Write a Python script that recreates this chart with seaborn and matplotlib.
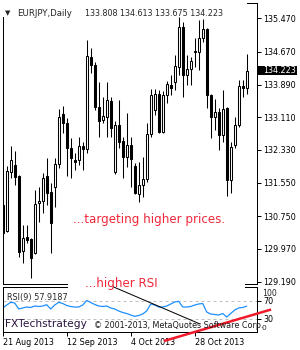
import matplotlib
matplotlib.use("Agg")
import numpy as np
import pandas as pd
import matplotlib.pyplot as plt
import matplotlib.transforms as mtransforms
from matplotlib.patches import Rectangle
from matplotlib.lines import Line2D
import seaborn as sns

# ---------------- data ----------------
symbol = "EURJPY,Daily"
opens = [131.019, 130.399, 131.805, 131.972, 131.710, 129.922, 130.256, 130.208, 129.874, 131.066,
         131.114, 131.710, 131.329, 131.448, 131.996, 133.188, 132.974, 132.378, 132.092, 132.092,
         132.425, 132.354, 134.547, 134.357, 133.355, 133.045, 133.117, 133.498, 131.805, 132.926,
         132.545, 132.163, 132.449, 131.949, 131.281, 131.496, 131.639, 132.711, 133.284, 133.665,
         132.759, 133.641, 133.880, 133.951, 134.309, 135.262, 134.118, 134.261, 134.690, 134.666,
         135.000, 135.215, 133.641, 133.117, 133.236, 132.688, 133.331, 131.615, 132.449, 132.926,
         133.856, 133.808]
highs = [131.066, 131.949, 132.425, 132.306, 131.734, 130.542, 130.542, 130.232, 131.376, 131.448,
         131.782, 132.139, 131.543, 132.139, 133.307, 133.379, 133.093, 132.616, 132.259, 132.640,
         132.521, 134.952, 134.762, 134.428, 133.951, 133.594, 133.951, 133.594, 133.021, 133.522,
         132.640, 133.212, 132.640, 132.020, 132.044, 132.163, 132.974, 133.784, 133.784, 133.760,
         133.737, 133.975, 134.118, 134.595, 135.501, 135.381, 134.595, 134.547, 135.000, 135.429,
         135.453, 135.238, 133.665, 133.546, 133.331, 133.760, 133.355, 132.521, 133.117, 133.999,
         133.999, 134.613]
lows = [130.304, 130.375, 131.662, 131.496, 129.779, 129.636, 130.113, 129.278, 129.851, 130.614,
        130.828, 131.019, 129.874, 130.971, 131.901, 132.735, 131.710, 131.662, 131.853, 131.972,
        131.853, 132.259, 134.166, 133.284, 132.640, 132.974, 132.640, 132.640, 131.758, 132.378,
        131.662, 131.925, 131.448, 131.281, 131.090, 131.210, 131.567, 132.640, 133.164, 132.735,
        132.735, 133.450, 133.641, 133.760, 134.118, 133.594, 133.880, 133.880, 134.309, 134.237,
        134.905, 133.331, 132.616, 132.807, 132.330, 132.521, 131.233, 131.305, 132.378, 132.878,
        133.594, 133.675]
closes = [130.351, 131.829, 132.092, 131.686, 129.898, 130.232, 130.184, 129.755, 131.043, 131.114,
          131.662, 131.305, 130.590, 131.996, 133.117, 132.974, 132.378, 132.139, 132.044, 132.425,
          132.354, 134.571, 134.357, 133.355, 133.021, 133.141, 133.522, 132.854, 132.926, 132.521,
          132.163, 132.449, 132.115, 131.305, 131.496, 131.639, 132.711, 133.641, 133.665, 132.759,
          133.641, 133.903, 133.808, 134.333, 135.262, 134.118, 134.261, 134.452, 134.666, 135.000,
          135.215, 133.641, 133.117, 133.236, 132.688, 133.307, 131.615, 132.402, 132.926, 133.856,
          133.808, 134.223]
rsi = [53.8, 60.4, 66.4, 64.9, 51.6, 53.8, 56.0, 54.9, 58.2, 57.1,
       58.2, 61.1, 51.6, 60.4, 66.4, 63.8, 59.3, 57.1, 56.0, 56.0,
       60.4, 70.4, 66.0, 61.6, 58.2, 57.1, 58.2, 53.8, 51.6, 47.1,
       43.8, 41.6, 38.2, 35.3, 37.1, 40.4, 47.1, 62.7, 60.4, 56.0,
       56.0, 58.2, 62.7, 67.1, 68.7, 56.0, 56.0, 57.1, 60.4, 62.7,
       63.8, 44.9, 40.4, 39.3, 38.2, 41.6, 33.8, 41.6, 49.3, 53.8,
       54.9, 57.9187]
date_tick_pos = [0, 16, 32, 48]
date_tick_labels = ["21 Aug 2013", "12 Sep 2013", "4 Oct 2013", "28 Oct 2013"]
price_ticks = [135.470, 134.670, 133.890, 133.110, 132.330, 131.550, 130.750, 129.970, 129.190]
rsi_levels = [70, 30]
rsi_trend_x = [40.3, 67.1]
rsi_trend_y = [-19.6, 50.4]

df = pd.DataFrame({"i": np.arange(len(opens)), "open": opens, "high": highs,
                   "low": lows, "close": closes, "rsi": rsi})

# ---------------- figure ----------------
sns.set_style("white")
plt.rcParams["font.family"] = ["DejaVu Sans"]

W, H = 300, 350
fig = plt.figure(figsize=(3, 3.5), dpi=100)
fig.patch.set_facecolor("white")

def fx(x):
    return x / W

def fy(y):
    return 1 - y / H

ax = fig.add_axes([fx(2.5), fy(284), (257.3 - 2.5) / W, (284 - 3.3) / H])
rax = fig.add_axes([fx(2.5), fy(332.2), (257.3 - 2.5) / W, 45 / H])

LW = 0.75
bull = df["close"] >= df["open"]
ax.vlines(df["i"], df["low"], df["high"], color="black", lw=LW, zorder=2)
body_h = np.maximum((df["close"] - df["open"]).abs(), 0.004)
ax.bar(df["i"], body_h, bottom=np.minimum(df["open"], df["close"]), width=0.5,
       color=np.where(bull, "white", "black"), edgecolor="black", linewidth=LW, zorder=3)

ax.set_xlim(-0.05, 63.65)
ax.set_ylim(129.135, 135.827)
ax.set_xticks([])
ax.yaxis.tick_right()
ax.set_yticks(price_ticks, labels=[f"{v:.3f}" for v in price_ticks])
ax.tick_params(axis="y", length=2.9, width=0.72, pad=1.4, labelsize=5.8,
               direction="out", colors="black", right=True, left=False)
for s in ax.spines.values():
    s.set_color("black")
    s.set_linewidth(0.72)

# RSI panel
sns.lineplot(data=df, x="i", y="rsi", ax=rax, color="#1E90FF", lw=0.9)
for lv in rsi_levels:
    rax.axhline(lv, color="#C0C0C0", lw=0.72, ls=(0, (3, 3)), zorder=1)
rax.set_xlim(-0.05, 63.65)
rax.set_ylim(0, 100)
rax.set_xlabel("")
rax.set_ylabel("")
rax.set_xticks(date_tick_pos, labels=date_tick_labels)
for lb in rax.get_xticklabels():
    lb.set_horizontalalignment("left")
rax.yaxis.tick_right()
rax.set_yticks(rsi_levels, labels=[str(v) for v in rsi_levels])
rax.tick_params(axis="x", length=2.9, width=0.72, pad=1.0, labelsize=5.8,
                direction="out", colors="black", bottom=True)
rax.tick_params(axis="y", length=2.9, width=0.72, pad=1.4, labelsize=5.8,
                direction="out", colors="black", right=True, left=False)
for s in rax.spines.values():
    s.set_color("black")
    s.set_linewidth(0.72)
fig.text(fx(262), fy(293.5), "100", fontsize=5.6, va="center", ha="left")
fig.text(fx(262), fy(328), "0", fontsize=5.4, va="center", ha="left")

fig.text(fx(7.3), fy(299.7), f"RSI(9) {rsi[-1]:.4f}", fontsize=5.9, va="baseline", ha="left")

# red trend line on RSI
rax.plot(rsi_trend_x, rsi_trend_y, color="#F01A2A", lw=1.8, clip_on=False, zorder=10,
         solid_capstyle="butt")

# white covers (title area and annotation area)
fig.add_artist(Rectangle((0, fy(17)), fx(247), 17 / H, transform=fig.transFigure,
                         fc="white", ec="none", zorder=4))
fig.add_artist(Rectangle((fx(68.3), fy(288.7)), (245 - 68.3) / W, 9.5 / H,
                         transform=fig.transFigure, fc="white", ec="none", zorder=4))

# title
fig.text(fx(5), fy(15.5), "▼", fontsize=5.0, va="baseline", ha="left", zorder=6)
fig.text(fx(17.3), fy(16), symbol, fontsize=6.2, va="baseline", ha="left", zorder=6)
fig.text(fx(85), fy(16), f"{opens[-1]:.3f} {highs[-1]:.3f} {lows[-1]:.3f} {closes[-1]:.3f}",
         fontsize=5.8, va="baseline", ha="left", zorder=6)

# current price box
blend = mtransforms.blended_transform_factory(fig.transFigure, ax.transData)
half = 4.15 * (135.827 - 129.135) / (284 - 3.3)
fig.add_artist(Rectangle((fx(258.3), closes[-1] - half), (296.7 - 258.3) / W, 2 * half,
                         transform=blend, fc="black", ec="none", zorder=5))
price_lbl = fig.text(fx(263), closes[-1], f"{closes[-1]:.3f}", fontsize=5.8, color="white",
                     va="center", ha="left", zorder=6)
price_lbl.set_transform(blend)

# annotations
red = "#F0283A"
fig.text(fx(73.3), fy(223.3), "...targeting higher prices.", fontsize=8.6, color=red,
         va="baseline", ha="left", zorder=6)
fig.text(fx(85), fy(286.5), "...higher RSI", fontsize=8.6, color=red,
         va="baseline", ha="left", zorder=6)
fig.add_artist(Line2D([fx(113), fx(200)], [fy(286.7), fy(324)], transform=fig.transFigure,
                      color="black", lw=0.72, zorder=6))
fig.text(fx(5), fy(327.3), "FXTechstrategy", fontsize=7.7, color="#2B1240",
         va="baseline", ha="left", zorder=7)
fig.text(fx(94), fy(327.8), "© 2001-2013, MetaQuotes Software Corp.", fontsize=5.75,
         color="#1A1A1A", va="baseline", ha="left", zorder=7)

fig.savefig("out.png", dpi=100, facecolor="white")
